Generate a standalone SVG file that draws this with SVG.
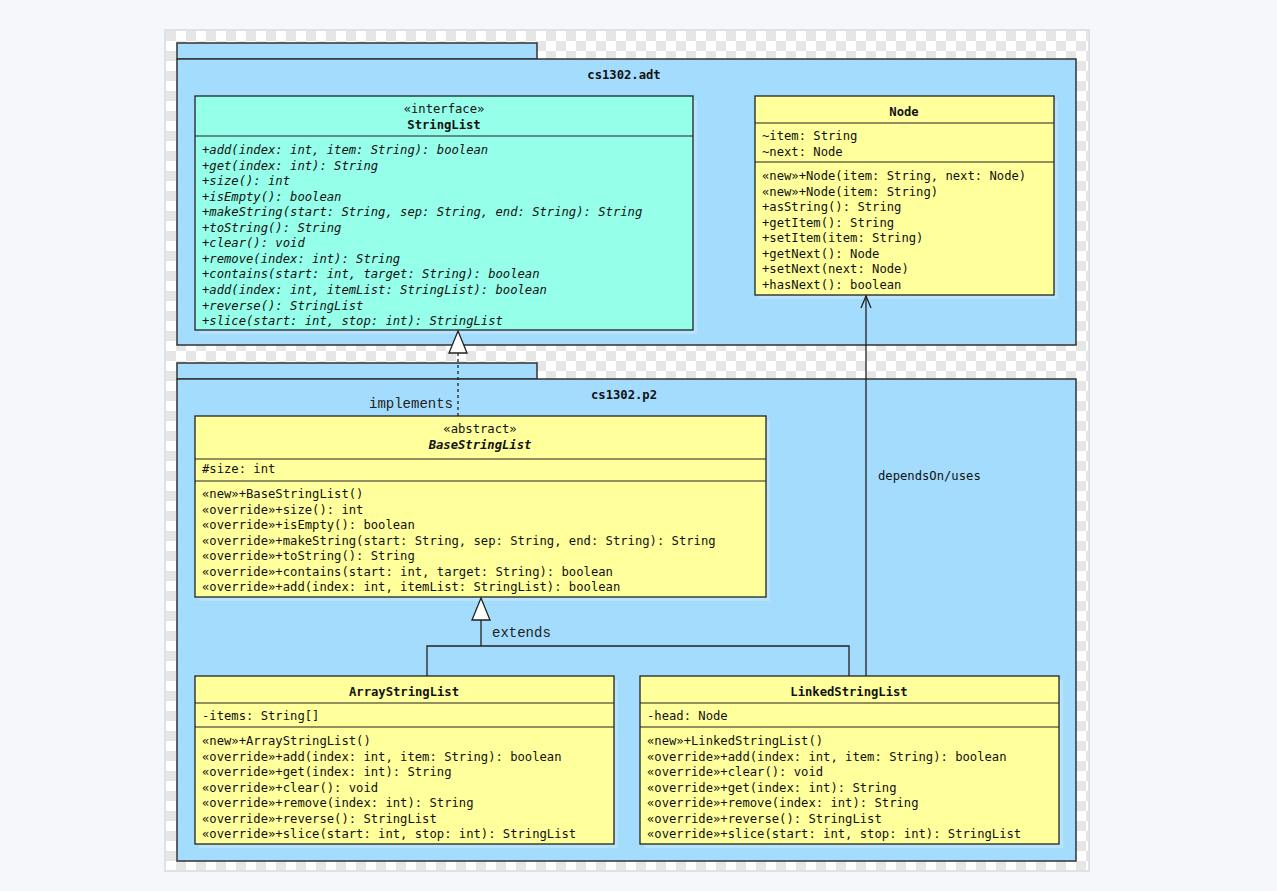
<svg xmlns="http://www.w3.org/2000/svg" width="1277" height="891" viewBox="0 0 1277 891">
<defs>
<pattern id="chk" x="166" y="31" width="20" height="20" patternUnits="userSpaceOnUse">
<rect width="20" height="20" fill="#ffffff"/>
<rect width="10" height="10" fill="#e6e6e6"/>
<rect x="10" y="10" width="10" height="10" fill="#e6e6e6"/>
</pattern>
<style>
.pkg{fill:#a3dcfd;stroke:#333;stroke-width:1.5}
.cls{stroke:#222;stroke-width:1.3}
.iface{fill:#96ffea}
.yel{fill:#ffff9c}
.shd{fill:#ffffff;opacity:0.22}
.sep{stroke:#222;stroke-width:1.2}
.t{font-family:"DejaVu Sans Mono","Liberation Mono",monospace;font-size:12.2px;fill:#111}
.b{font-weight:bold}
.i{font-style:italic}
.c{text-anchor:middle}
.lbl{font-family:"Liberation Mono","DejaVu Sans Mono",monospace;font-size:14px;fill:#222}
.ln{stroke:#222;stroke-width:1.3;fill:none}
.head{fill:#fff;stroke:#222;stroke-width:1.3}
</style>
</defs>
<rect width="1277" height="891" fill="#f5f7fa"/>
<rect x="165" y="30" width="924" height="841" fill="url(#chk)" stroke="#dde2e8" stroke-width="2"/>

<g id="pkg-adt">
<rect class="pkg" x="177" y="43" width="360" height="16"/>
<rect class="pkg" x="177" y="59" width="899" height="286"/>
<text class="t b c" x="624" y="79">cs1302.adt</text>
</g>
<g id="pkg-p2">
<rect class="pkg" x="177" y="363" width="360" height="16"/>
<rect class="pkg" x="177" y="379" width="899" height="482"/>
<text class="t b c" x="624" y="399">cs1302.p2</text>
</g>

<g id="StringList">
<rect class="shd" x="199" y="100" width="498" height="234"/>
<rect class="cls iface" x="195" y="96" width="498" height="234"/>
<text class="t c" x="444" y="113">«interface»</text>
<text class="t b c" x="444" y="129">StringList</text>
<line class="sep" x1="195" y1="136" x2="693" y2="136"/>
<g class="t i">
<text x="202" y="154">+add(index: int, item: String): boolean</text>
<text x="202" y="169.5">+get(index: int): String</text>
<text x="202" y="185">+size(): int</text>
<text x="202" y="200.6">+isEmpty(): boolean</text>
<text x="202" y="216.2">+makeString(start: String, sep: String, end: String): String</text>
<text x="202" y="231.7">+toString(): String</text>
<text x="202" y="247.3">+clear(): void</text>
<text x="202" y="262.8">+remove(index: int): String</text>
<text x="202" y="278.4">+contains(start: int, target: String): boolean</text>
<text x="202" y="294">+add(index: int, itemList: StringList): boolean</text>
<text x="202" y="309.5">+reverse(): StringList</text>
<text x="202" y="325">+slice(start: int, stop: int): StringList</text>
</g>
</g>

<g id="Node">
<rect class="shd" x="759" y="100" width="299" height="199"/>
<rect class="cls yel" x="755" y="96" width="299" height="199"/>
<text class="t b c" x="904" y="116">Node</text>
<line class="sep" x1="755" y1="123" x2="1054" y2="123"/>
<text class="t" x="762" y="140">~item: String</text>
<text class="t" x="762" y="156">~next: Node</text>
<line class="sep" x1="755" y1="162" x2="1054" y2="162"/>
<g class="t">
<text x="762" y="180">«new»+Node(item: String, next: Node)</text>
<text x="762" y="195.6">«new»+Node(item: String)</text>
<text x="762" y="211.1">+asString(): String</text>
<text x="762" y="226.7">+getItem(): String</text>
<text x="762" y="242.3">+setItem(item: String)</text>
<text x="762" y="257.8">+getNext(): Node</text>
<text x="762" y="273.4">+setNext(next: Node)</text>
<text x="762" y="289">+hasNext(): boolean</text>
</g>
</g>

<g id="BaseStringList">
<rect class="shd" x="199" y="420" width="571" height="181"/>
<rect class="cls yel" x="195" y="416" width="571" height="181"/>
<text class="t c" x="480" y="433">«abstract»</text>
<text class="t b i c" x="480" y="449">BaseStringList</text>
<line class="sep" x1="195" y1="459" x2="766" y2="459"/>
<text class="t" x="202" y="473">#size: int</text>
<line class="sep" x1="195" y1="481" x2="766" y2="481"/>
<g class="t">
<text x="202" y="498">«new»+BaseStringList()</text>
<text x="202" y="513.5">«override»+size(): int</text>
<text x="202" y="529">«override»+isEmpty(): boolean</text>
<text x="202" y="544.5">«override»+makeString(start: String, sep: String, end: String): String</text>
<text x="202" y="560">«override»+toString(): String</text>
<text x="202" y="575.5">«override»+contains(start: int, target: String): boolean</text>
<text x="202" y="591">«override»+add(index: int, itemList: StringList): boolean</text>
</g>
</g>

<g id="ArrayStringList">
<rect class="shd" x="199" y="680" width="419" height="168"/>
<rect class="cls yel" x="195" y="676" width="419" height="168"/>
<text class="t b c" x="404" y="696">ArrayStringList</text>
<line class="sep" x1="195" y1="703" x2="614" y2="703"/>
<text class="t" x="202" y="720">-items: String[]</text>
<line class="sep" x1="195" y1="727" x2="614" y2="727"/>
<g class="t">
<text x="202" y="745">«new»+ArrayStringList()</text>
<text x="202" y="760.5">«override»+add(index: int, item: String): boolean</text>
<text x="202" y="776">«override»+get(index: int): String</text>
<text x="202" y="791.5">«override»+clear(): void</text>
<text x="202" y="807">«override»+remove(index: int): String</text>
<text x="202" y="822.5">«override»+reverse(): StringList</text>
<text x="202" y="838">«override»+slice(start: int, stop: int): StringList</text>
</g>
</g>

<g id="LinkedStringList">
<rect class="shd" x="644" y="680" width="419" height="168"/>
<rect class="cls yel" x="640" y="676" width="419" height="168"/>
<text class="t b c" x="849" y="696">LinkedStringList</text>
<line class="sep" x1="640" y1="703" x2="1059" y2="703"/>
<text class="t" x="647" y="720">-head: Node</text>
<line class="sep" x1="640" y1="727" x2="1059" y2="727"/>
<g class="t">
<text x="647" y="745">«new»+LinkedStringList()</text>
<text x="647" y="760.5">«override»+add(index: int, item: String): boolean</text>
<text x="647" y="776">«override»+clear(): void</text>
<text x="647" y="791.5">«override»+get(index: int): String</text>
<text x="647" y="807">«override»+remove(index: int): String</text>
<text x="647" y="822.5">«override»+reverse(): StringList</text>
<text x="647" y="838">«override»+slice(start: int, stop: int): StringList</text>
</g>
</g>

<g id="connectors">
<line class="ln" x1="458" y1="416" x2="458" y2="353" stroke-dasharray="3,3"/>
<polygon class="head" points="458,331 449,353 467,353"/>
<text class="lbl" x="369" y="408">implements</text>

<polyline class="ln" points="427,676 427,646 849,646 849,676"/>
<line class="ln" x1="481" y1="646" x2="481" y2="620"/>
<polygon class="head" points="481,598 472,620 490,620"/>
<text class="lbl" x="492" y="637">extends</text>

<line class="ln" x1="866" y1="676" x2="866" y2="296"/>
<polyline class="ln" points="861,308 866,296 871,308"/>
<text class="t" x="878" y="480">dependsOn/uses</text>
</g>
</svg>
